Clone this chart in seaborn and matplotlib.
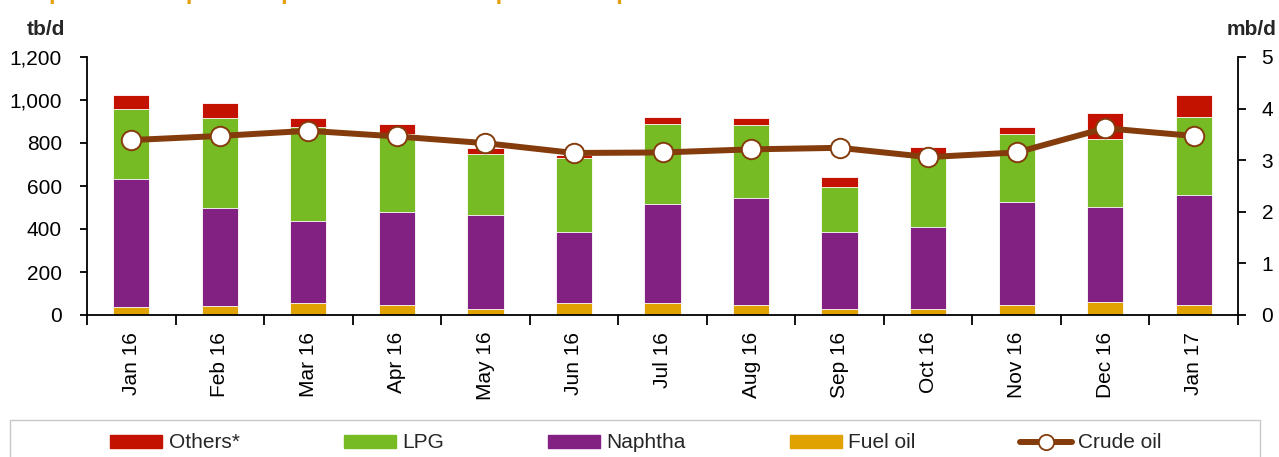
import numpy as np
import pandas as pd
import matplotlib.pyplot as plt
import seaborn as sns
from matplotlib.patches import Patch, Rectangle
from matplotlib.lines import Line2D
from matplotlib.ticker import FuncFormatter

# dados (tb/d e mb/d)
months = ['Jan 16', 'Feb 16', 'Mar 16', 'Apr 16', 'May 16', 'Jun 16', 'Jul 16',
          'Aug 16', 'Sep 16', 'Oct 16', 'Nov 16', 'Dec 16', 'Jan 17']
fuel_oil = [39, 42, 57, 48, 28, 56, 56, 48, 28, 26, 48, 59, 45]
naphtha = [592, 457, 380, 430, 439, 331, 459, 495, 359, 382, 479, 442, 512]
lpg = [326, 419, 439, 364, 283, 343, 372, 341, 210, 341, 313, 319, 364]
others = [66, 70, 40, 48, 28, 14, 34, 32, 45, 32, 34, 120, 104]
crude_oil = [3.39, 3.47, 3.57, 3.46, 3.33, 3.14, 3.15, 3.21, 3.24, 3.06, 3.15, 3.62, 3.47]

colors = {'Others*': '#C41200', 'LPG': '#77BB24', 'Naphtha': '#822181', 'Fuel oil': '#DFA200'}
brown = '#843C0C'

sns.set_theme(style='ticks')
plt.rcParams['font.family'] = ['Liberation Sans', 'DejaVu Sans']

df = pd.DataFrame({'month': months, 'Fuel oil': fuel_oil, 'Naphtha': naphtha,
                   'LPG': lpg, 'Others*': others})
stack = df.set_index('month').cumsum(axis=1).reset_index()

W, H = 1279, 457
fig = plt.figure(figsize=(W / 100, H / 100), dpi=100)
ax = fig.add_axes([87 / W, 1 - 315 / H, (1238 - 87) / W, (315 - 57) / H])

# barras empilhadas: desenha do topo (total) para baixo
for col in ['Others*', 'LPG', 'Naphtha', 'Fuel oil']:
    sns.barplot(data=stack, x='month', y=col, color=colors[col], saturation=1,
                width=0.41, edgecolor='white', linewidth=0.6, ax=ax)

ax2 = ax.twinx()
sns.lineplot(x=np.arange(len(months)), y=crude_oil, ax=ax2, color=brown, lw=4.3,
             marker='o', markersize=14, markerfacecolor='white',
             markeredgecolor=brown, markeredgewidth=1.4, legend=False)

ax.set_xlim(-0.5, len(months) - 0.5)
ax.set_ylim(0, 1200)
ax.set_yticks(range(0, 1201, 200))
ax.yaxis.set_major_formatter(FuncFormatter(lambda v, p: f'{v:,.0f}'))
ax.set_xticks(range(len(months)))
ax.set_xticklabels(months, rotation=90)
ax.set_xticks(np.arange(-0.5, len(months), 1), minor=True)
ax.set_xlabel('')
ax.set_ylabel('')
ax.tick_params(axis='x', which='major', length=0, pad=12, labelsize=15, colors='black')
ax.tick_params(axis='x', which='minor', length=7, width=1.3, direction='out', color='black')
ax.tick_params(axis='y', length=5, width=1.3, pad=13, labelsize=15, direction='out', colors='black')

ax2.set_ylim(0, 5)
ax2.set_yticks(range(6))
ax2.set_ylabel('')
ax2.tick_params(axis='y', length=6, width=1.3, pad=11, labelsize=15, direction='out', colors='black')

for a in (ax, ax2):
    a.spines['top'].set_visible(False)
    for s in a.spines.values():
        s.set_color('black')
        s.set_linewidth(1.3)
ax.spines['right'].set_visible(False)
ax2.spines['left'].set_visible(False)
ax2.spines['bottom'].set_visible(False)

fig.text(27 / W, 1 - 20 / H, 'tb/d', fontweight='bold', fontsize=15, ha='left', va='top')
fig.text(1277 / W, 1 - 20 / H, 'mb/d', fontweight='bold', fontsize=15, ha='right', va='top')
# titulo cortado no topo, como na imagem original
fig.text(8 / W, 1 + 0.5 / H, "Graph 10 - 8: Japan's imports of crude and petroleum products",
         color='#E5A00D', fontweight='bold', fontsize=17, ha='left', va='baseline')

# legenda com moldura propria
fig.add_artist(Rectangle((10 / W, -0.05), 1250 / W, (1 - 420 / H) + 0.05,
                         transform=fig.transFigure, fill=False, edgecolor='#c8c8c8', lw=1))
handles = [Patch(color=colors[k]) for k in ['Others*', 'LPG', 'Naphtha', 'Fuel oil']]
handles.append(Line2D([0], [0], color=brown, lw=4.3, marker='o', markersize=11,
                      markerfacecolor='white', markeredgecolor=brown, markeredgewidth=1.3))
labels = ['Others*', 'LPG', 'Naphtha', 'Fuel oil', 'Crude oil']
fig.legend(handles, labels, loc='center', bbox_to_anchor=(636 / W, 1 - 443 / H), ncol=5,
           frameon=False, fontsize=15, handlelength=2.5, handleheight=0.6,
           handletextpad=0.3, columnspacing=5.0)

fig.savefig('out.png', dpi=100)
